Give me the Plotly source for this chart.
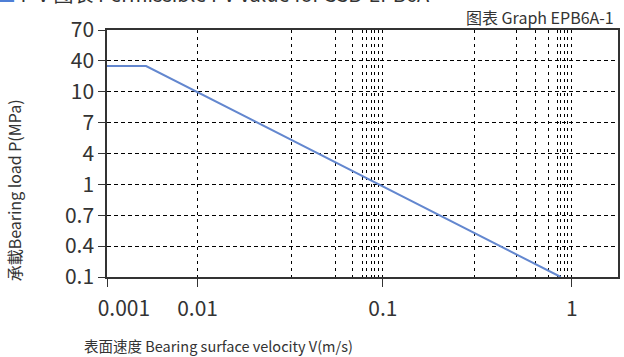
import numpy as np
import plotly.graph_objects as go

# ---------------- data ----------------
velocity = [0.001, 0.0027, 0.7]      # V (m/s)
load = [35, 35, 0.1]                 # P (MPa)

x_tick_values = [0.001, 0.01, 0.1, 1]
x_tick_labels = ["\u2007\u2007\u20020.001", "0.01", "0.1", "1"]
y_tick_values = [0.1, 0.4, 0.7, 1, 4, 7, 10, 40, 70]
y_tick_labels = ["0.1", "0.4", "0.7", "1", "4", "7", "10", "40", "70"]
x_minor_values = [0.02, 0.03, 0.04, 0.05, 0.06, 0.07, 0.08, 0.09,
                  0.2, 0.3, 0.4, 0.5, 0.6, 0.7, 0.8, 0.9]

# ---------------- the chart's own (non-uniform) axis scales ----------------
# x: value -> axis unit table as drawn in the original chart
X_SCALE_V = [0.001, 0.01, 0.02, 0.03, 0.04, 0.05, 0.06, 0.07, 0.08, 0.09, 0.1,
             0.2, 0.3, 0.4, 0.5, 0.6, 0.7, 0.8, 0.9, 1.0]
X_SCALE_U = [0.0, 0.974, 1.981, 2.457, 2.634, 2.741, 2.794, 2.843, 2.880, 2.923, 2.966,
             3.951, 4.400, 4.604, 4.743, 4.839, 4.877, 4.914, 4.952, 4.995]
X_MAX_U = 5.4925


def xs(v):
    return np.interp(np.log10(v), np.log10(X_SCALE_V), X_SCALE_U)


def ys(p):
    # evenly spaced labelled levels, linear between neighbouring levels
    return np.interp(p, y_tick_values, np.arange(len(y_tick_values)))


FONT = "Noto Sans CJK SC"
TXT = "#333333"

fig = go.Figure()
fig.add_trace(go.Scatter(
    x=xs(np.array(velocity)), y=ys(np.array(load)), mode="lines",
    line=dict(color="#6387CF", width=2), hoverinfo="skip", showlegend=False))

fig.update_layout(
    width=624, height=357,
    margin=dict(l=107, r=4, t=30, b=80),
    paper_bgcolor="white", plot_bgcolor="white",
    font=dict(family=FONT, color=TXT),
    xaxis=dict(
        range=[0, X_MAX_U], tickmode="array",
        tickvals=list(xs(np.array(x_tick_values))), ticktext=x_tick_labels,
        ticks="outside", ticklen=8, tickwidth=1, tickcolor="#333",
        showline=True, mirror=True, linecolor="#333", linewidth=1.5,
        showgrid=True, gridcolor="#000", gridwidth=1, griddash="3px,4px",
        zeroline=False, tickfont=dict(size=21, family=FONT, color=TXT),
        ticklabelstandoff=4,
        minor=dict(tickmode="array", tickvals=list(xs(np.array(x_minor_values))),
                   ticks="", showgrid=True, gridcolor="#000", gridwidth=1,
                   griddash="3px,4px"),
    ),
    yaxis=dict(
        range=[0, len(y_tick_values) - 1], tickmode="array",
        tickvals=list(range(len(y_tick_values))), ticktext=y_tick_labels,
        ticks="outside", ticklen=7, tickwidth=1, tickcolor="#333",
        showline=True, mirror=True, linecolor="#333", linewidth=1.5,
        showgrid=True, gridcolor="#000", gridwidth=1, griddash="4px,3px",
        zeroline=False, tickfont=dict(size=21, family=FONT, color=TXT),
    ),
)

PW, PH = 513.0, 247.0  # plot area size in px


def px_x(px):
    return (px - 107) / PW


def px_y(py):
    return (277 - py) / PH


fig.add_annotation(text="承載Bearing load P(MPa)", textangle=-90,
                   xref="paper", yref="paper", x=px_x(14), y=px_y(190),
                   xanchor="center", yanchor="middle", showarrow=False,
                   font=dict(size=16, family=FONT, color=TXT))
fig.add_annotation(text="表面速度 Bearing surface velocity V(m/s)",
                   xref="paper", yref="paper", x=px_x(82), y=px_y(345),
                   xanchor="left", yanchor="middle", showarrow=False,
                   font=dict(size=14.5, family=FONT, color=TXT))
fig.add_annotation(text="图表 Graph EPB6A-1",
                   xref="paper", yref="paper", x=px_x(618), y=px_y(17),
                   xanchor="right", yanchor="middle", showarrow=False,
                   font=dict(size=16, family=FONT, color=TXT))
fig.add_annotation(text='<span style="color:#4F7FD6">■</span> P V 图表 Permissible PV value for SSB-EPB6A',
                   xref="paper", yref="paper", x=px_x(-6), y=px_y(10),
                   xanchor="left", yanchor="bottom", showarrow=False,
                   font=dict(size=20, family=FONT, color=TXT))

fig.write_html("out.html", config={"displayModeBar": False},
               post_script="document.body.style.margin='0';")
